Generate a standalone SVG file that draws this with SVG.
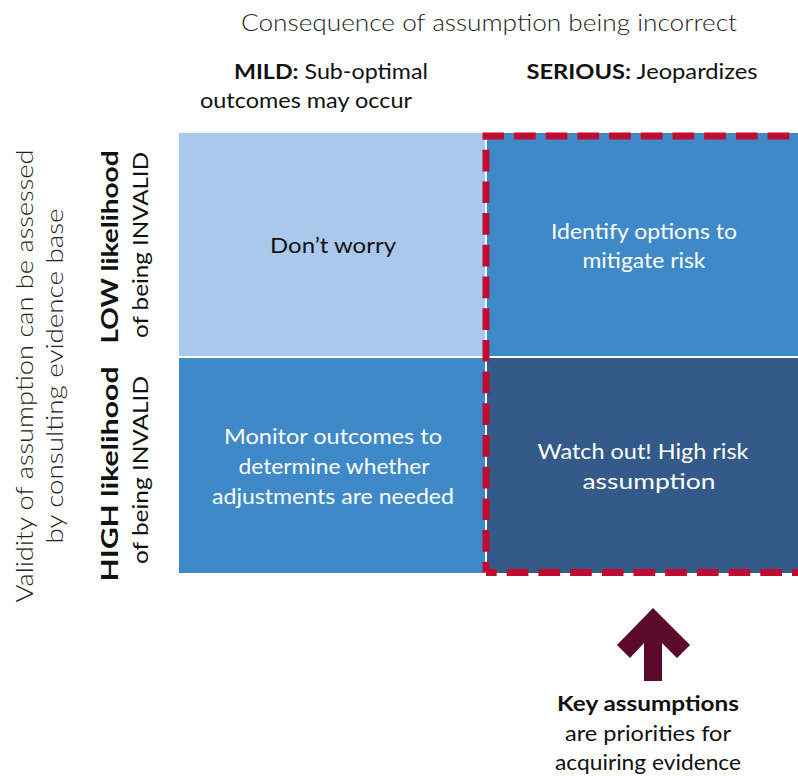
<svg xmlns="http://www.w3.org/2000/svg" width="798" height="776" viewBox="0 0 798 776">
<style>
text{font-family:Lato,"Open Sans","Liberation Sans",sans-serif;text-anchor:middle}
.light{font-weight:300;font-size:24px;fill:#222}
.hdr{font-size:21px;fill:#111}
.b{font-weight:700}
.q{font-size:21px}
.w{fill:#fff}
.k{fill:#111}
.side{font-size:22px;fill:#111}
.dash{fill:none;stroke:#c00c30;stroke-width:7;stroke-dasharray:21.7 10;stroke-dashoffset:11}
</style>
<rect width="798" height="776" fill="#fff"/>
<text class="light" x="489" y="31" textLength="496" lengthAdjust="spacingAndGlyphs">Consequence of assumption being incorrect</text>
<g id="col-mild">
<text class="hdr" x="331" y="79" textLength="194" lengthAdjust="spacingAndGlyphs"><tspan class="b">MILD:</tspan> Sub-optimal</text>
<text class="hdr" x="306" y="108" textLength="212" lengthAdjust="spacingAndGlyphs">outcomes may occur</text>
</g>
<g id="col-serious">
<text class="hdr" x="642" y="79" textLength="231" lengthAdjust="spacingAndGlyphs"><tspan class="b">SERIOUS:</tspan> Jeopardizes</text>
</g>
<g id="axis-y">
<text class="light" transform="translate(33,376) rotate(-90)" textLength="453" lengthAdjust="spacingAndGlyphs">Validity of assumption can be assessed</text>
<text class="light" transform="translate(63,376) rotate(-90)" textLength="335" lengthAdjust="spacingAndGlyphs">by consulting evidence base</text>
</g>
<g id="row-low">
<text class="side b" transform="translate(118,247) rotate(-90)" textLength="193" lengthAdjust="spacingAndGlyphs">LOW likelihood</text>
<text class="side" transform="translate(148,245) rotate(-90)" textLength="186" lengthAdjust="spacingAndGlyphs">of being INVALID</text>
</g>
<g id="row-high">
<text class="side b" transform="translate(118,474) rotate(-90)" textLength="215" lengthAdjust="spacingAndGlyphs">HIGH likelihood</text>
<text class="side" transform="translate(148,470) rotate(-90)" textLength="188" lengthAdjust="spacingAndGlyphs">of being INVALID</text>
</g>
<g id="q-dont-worry">
<rect x="179" y="133" width="306" height="223" fill="#a9c8ec"/>
<text class="q k" x="333" y="253" textLength="126" lengthAdjust="spacingAndGlyphs">Don’t worry</text>
</g>
<g id="q-identify">
<rect x="487" y="133" width="311" height="223" fill="#3f89c8"/>
<text class="q w" x="644" y="239" textLength="186" lengthAdjust="spacingAndGlyphs">Identify options to</text>
<text class="q w" x="644" y="268" textLength="123" lengthAdjust="spacingAndGlyphs">mitigate risk</text>
</g>
<g id="q-monitor">
<rect x="179" y="358" width="306" height="215" fill="#3f89c8"/>
<text class="q w" x="333" y="444" textLength="218" lengthAdjust="spacingAndGlyphs">Monitor outcomes to</text>
<text class="q w" x="334" y="474" textLength="191" lengthAdjust="spacingAndGlyphs">determine whether</text>
<text class="q w" x="333" y="504" textLength="242" lengthAdjust="spacingAndGlyphs">adjustments are needed</text>
</g>
<g id="q-watch">
<rect x="487" y="358" width="311" height="215" fill="#335a88"/>
<text class="q w" x="643" y="459" textLength="211" lengthAdjust="spacingAndGlyphs">Watch out! High risk</text>
<text class="q w" x="649" y="489" textLength="133" lengthAdjust="spacingAndGlyphs">assumption</text>
</g>
<g id="connectors">
<path class="dash" d="M486,572.5 V136 H820"/>
<path class="dash" d="M486,572.5 H820"/>
<polygon points="653,608 690,645 677,658 662,643 662,681 644,681 644,643 630,658 617,645" fill="#5c0a2b"/>
</g>
<g id="key-assumptions">
<text class="q k b" x="648" y="711" textLength="182" lengthAdjust="spacingAndGlyphs">Key assumptions</text>
<text class="q k" x="648" y="741" textLength="166" lengthAdjust="spacingAndGlyphs">are priorities for</text>
<text class="q k" x="648" y="770" textLength="186" lengthAdjust="spacingAndGlyphs">acquiring evidence</text>
</g>
</svg>
